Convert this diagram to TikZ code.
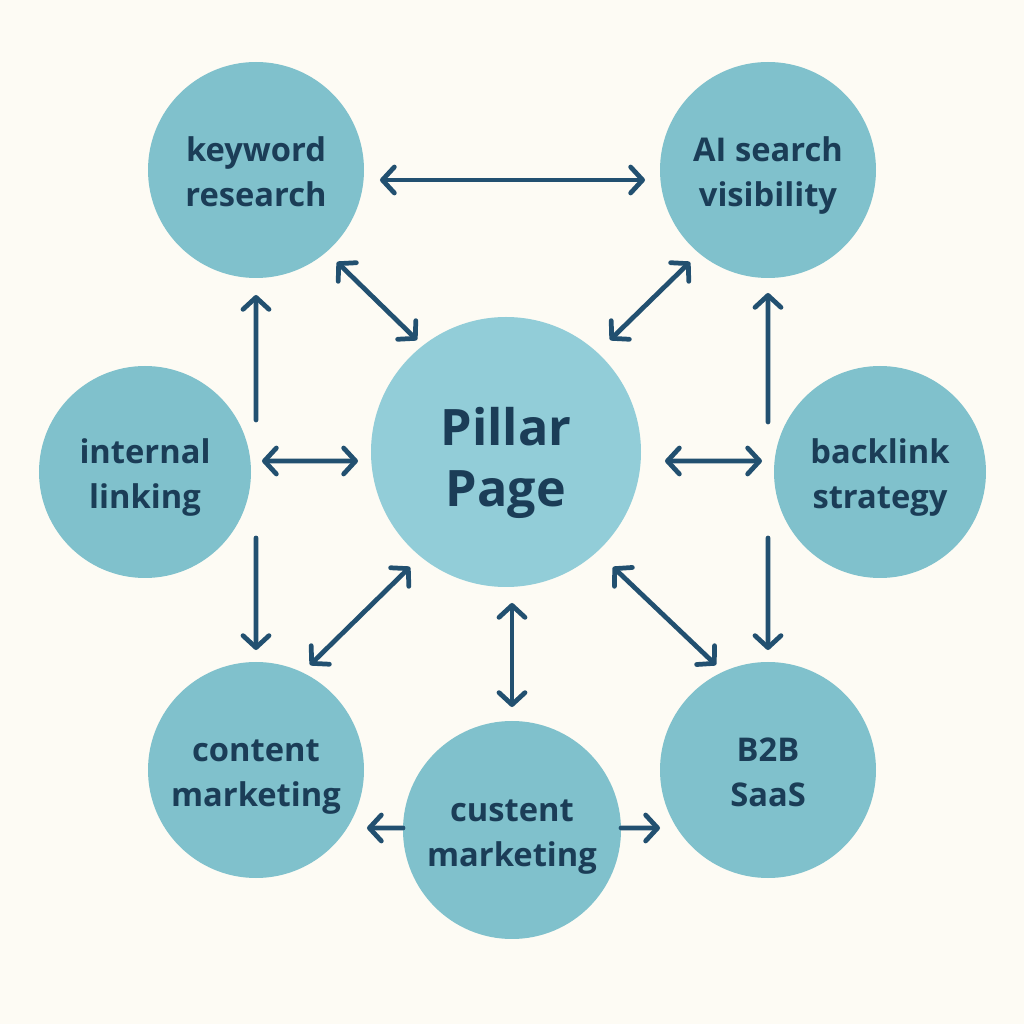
\documentclass[tikz,border=0pt]{standalone}
\usepackage{fontspec}
\setmainfont{Open Sans}
\usepackage{tikz}
\usetikzlibrary{calc,arrows.meta}
\usepackage{xcolor}
\definecolor{paper}{RGB}{253,251,244}
\definecolor{topicteal}{RGB}{128,193,204}
\definecolor{hubteal}{RGB}{146,205,216}
\definecolor{inkblue}{RGB}{27,61,87}
\definecolor{linkblue}{RGB}{34,80,112}
% two centred lines, pushed down a little by a taller first strut
\newcommand{\twolines}[3][1mm]{\rule{0pt}{\dimexpr\ht\strutbox+#1\relax}#2\\\strut#3}

\begin{document}
\begin{tikzpicture}[x=1cm,y=1cm]
  \tikzset{
    topic/.style={circle,fill=topicteal,minimum size=2.16cm,inner sep=0pt,align=center,
                  text=inkblue,font=\fontsize{9.3}{12.9}\selectfont\bfseries},
    side/.style={topic,minimum size=2.12cm},
    hub/.style={topic,fill=hubteal,minimum size=2.70cm,font=\fontsize{14.3}{17.2}\selectfont\bfseries},
    link/.style={draw=linkblue,line width=1.35pt,line cap=round,
                 {Straight Barb[length=1.2mm,width=2.6mm,round]}-{Straight Barb[length=1.2mm,width=2.6mm,round]}},
    oneway/.style={link,-{Straight Barb[length=1.2mm,width=2.6mm,round]}},
  }
  \fill[paper] (0,0) rectangle (10.24,10.24);
  \useasboundingbox (0,0) rectangle (10.24,10.24);

  \node[topic] (kw) at (2.56,8.54) {\twolines{keyword}{research}};
  \node[topic] (ai) at (7.68,8.54) {\twolines{AI search}{visibility}};
  \node[hub]   (pp) at (5.06,5.72) {\twolines[2.4mm]{Pillar}{Page}};
  \node[side]  (il) at (1.45,5.52) {\twolines{internal}{linking}};
  \node[side]  (bl) at (8.80,5.52) {\twolines{backlink}{strategy}};
  \node[topic] (cm) at (2.56,2.54) {\twolines{content}{marketing}};
  \node[topic,minimum size=2.18cm] (cu) at (5.12,1.94) {\twolines{custent}{marketing}};
  \node[topic] (b2) at (7.68,2.54) {\twolines{B2B}{SaaS}};

  % two-way links
  \draw[link] ($(kw)+(1.24,-0.10)$) -- ($(ai)+(-1.23,-0.10)$);
  \draw[link] ($(kw)+(0.81,-0.92)$) -- ($(pp)+(-0.89,1.12)$);
  \draw[link] ($(ai)+(-0.78,-0.92)$) -- ($(pp)+(1.04,1.12)$);
  \draw[link] ($(il)+(1.17,0.11)$) -- ($(pp)+(-1.48,-0.09)$);
  \draw[link] ($(pp)+(1.59,-0.09)$) -- ($(bl)+(-1.18,0.11)$);
  \draw[link] ($(pp)+(-0.96,-1.15)$) -- ($(cm)+(0.54,1.05)$);
  \draw[link] ($(pp)+(0.06,-1.51)$) -- ($(cu)+(0,1.23)$);
  \draw[link] ($(pp)+(1.07,-1.15)$) -- ($(b2)+(-0.52,1.05)$);

  % one-way links
  \draw[oneway] ($(il)+(1.11,0.52)$) -- ($(kw)+(0,-1.25)$);
  \draw[oneway] ($(il)+(1.11,-0.66)$) -- ($(cm)+(0,1.20)$);
  \draw[oneway] ($(bl)+(-1.12,0.50)$) -- ($(ai)+(0,-1.23)$);
  \draw[oneway] ($(bl)+(-1.12,-0.66)$) -- ($(b2)+(0,1.20)$);
  \draw[oneway] ($(cu)+(-1.09,0.02)$) -- ($(cm)+(1.11,-0.58)$);
  \draw[oneway] ($(cu)+(1.09,0.02)$) -- ($(b2)+(-1.08,-0.58)$);
\end{tikzpicture}
\end{document}
